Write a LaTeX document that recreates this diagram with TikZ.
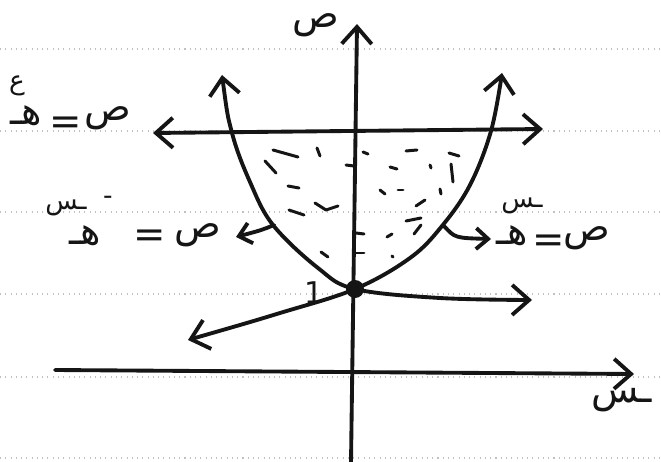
\documentclass[tikz,border=0pt]{standalone}
\usepackage{fontspec}
\setmainfont{DejaVu Sans}
\newfontfamily\arabicfont[Script=Arabic]{DejaVu Sans}
\TeXXeTstate=1
\usetikzlibrary{arrows.meta}
\definecolor{PenInk}{HTML}{151515}
\definecolor{RuleDot}{HTML}{BDC2C6}
\tikzset{
  pen/.style={PenInk,line width=2.2pt,line cap=round,line join=round},
  tip/.style={-{Straight Barb[length=3.4mm,width=6mm]}},
  bothtips/.style={{Straight Barb[length=3.4mm,width=6mm]}-{Straight Barb[length=3.4mm,width=6mm]}},
  smalltip/.style={-{Straight Barb[length=2.4mm,width=4.2mm]}},
  fleck/.style={PenInk,line width=1.7pt,line cap=round},
  rule/.style={RuleDot,line width=.8pt,dash pattern=on .6pt off 2.4pt},
  glyph/.style={PenInk,inner sep=0pt,font=\arabicfont\fontsize{22}{24}\selectfont},
  supglyph/.style={PenInk,inner sep=0pt,font=\arabicfont\fontsize{15}{17}\selectfont}
}
\begin{document}
\begin{tikzpicture}[x=0.02cm,y=-0.02cm]
\path[use as bounding box] (0,0) rectangle (661,462);
\fill[white] (0,0) rectangle (661,462);
% ruled paper
\foreach \ry in {49,131,212,294,377,458}
  \draw[rule] (0,\ry) -- (661,\ry);
% axes
\coordinate (xFrom) at (55,370);
\coordinate (xTo) at (634,374);
\coordinate (yFrom) at (351,462);
\coordinate (yTo) at (357,24);
\draw[pen,tip] (xFrom) -- (xTo);
\draw[pen,tip] (yFrom) -- (yTo);
\node[glyph] (yLbl) at (316,25) {ص};
\node[glyph] (xLbl) at (622,400) {ـس};
% line y = e
\coordinate (capL) at (153,133);
\coordinate (capR) at (543,129);
\draw[pen,bothtips] (capL) -- (capR);
% the two curves
\draw[pen,bothtips] plot[smooth,tension=.6] coordinates
  {(222,75) (232,133) (250,182) (273,225) (318,268) (355,289) (440,298) (532,300)};
\draw[pen,bothtips] plot[smooth,tension=.6] coordinates
  {(188,340) (280,313) (355,289) (410,258) (442,226) (470,185) (491,131) (502,73)};
% shaded region
\foreach \a/\b/\c/\d in {273/150/298/157, 317/148/320/156, 265/161/276/173,
  288/186/299/188, 315/203/326/210, 326/210/338/206, 289/210/304/215,
  321/252/328/257, 346/165/354/166, 356/233/364/234, 356/253/364/253,
  363/152/368/154, 406/151/417/150, 449/153/459/156, 390/167/397/169,
  430/165/431/168, 451/164/453/182, 380/190/385/194, 398/190/403/190,
  440/189/441/194, 416/206/425/200, 406/221/421/218, 414/234/421/225,
  387/237/392/234, 392/256/393/257}
  \draw[fleck] (\a,\b) -- (\c,\d);
% meeting point
\fill[PenInk] (355,289) circle (9);
\node[PenInk,inner sep=0pt,font=\fontsize{17}{19}\selectfont] (oneLbl) at (314,293) {1};
% pointers to the curves
\coordinate (lFrom) at (274,225);
\coordinate (lTo) at (236,237);
\coordinate (rFrom) at (444,226);
\coordinate (rTo) at (491,239);
\draw[pen,smalltip] (lFrom) .. controls (262,230) .. (lTo);
\draw[pen,smalltip] (rFrom) .. controls (455,238) .. (rTo);
% labels
\node[glyph] (capHeh) at (26,116) {هـ};
\node[supglyph] (capSup) at (17,86) {ع};
\node[glyph] (capEq) at (66,126) {=};
\node[glyph] (capSad) at (108,118) {ص};
\node[glyph] (lHeh) at (85,236) {هـ};
\node[supglyph] (lSup) at (66,208) {ـس};
\node[supglyph] (lMinus) at (108,200) {-};
\node[glyph] (lEq) at (150,239) {=};
\node[glyph] (lSad) at (198,235) {ص};
\node[glyph] (rHeh) at (512,236) {هـ};
\node[supglyph] (rSup) at (522,206) {ـس};
\node[glyph] (rEq) at (549,244) {=};
\node[glyph] (rSad) at (587,238) {ص};
\end{tikzpicture}
\end{document}
